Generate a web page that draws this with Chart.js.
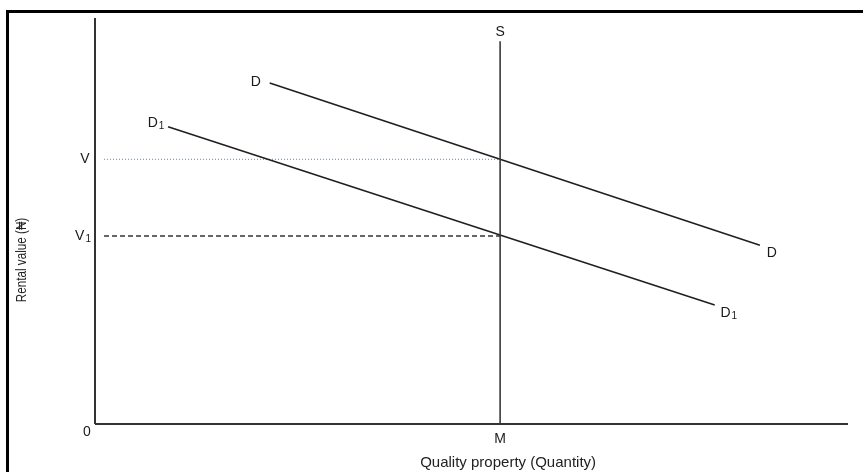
<!DOCTYPE html>
<html>
<head>
<meta charset="utf-8">
<script src="https://cdn.jsdelivr.net/npm/chart.js@4.4.0/dist/chart.umd.min.js"></script>
<style>
  body { margin: 0; background: #fff; }
  #wrap { width: 863px; height: 472px; position: relative; }
</style>
</head>
<body>
<div id="wrap"><canvas id="grafico"></canvas></div>
<script>
var demandaX = [23.2, 88.3];
var demandaY = [84.0, 44.0];
var demanda1X = [9.7, 82.3];
var demanda1Y = [73.2, 29.3];
var ofertaX = [53.8, 53.8];
var ofertaY = [0, 94.3];
var niveles = [65.2, 46.3]; // V, V1
var ejeMax = 100;

function puntos(xs, ys) {
    return xs.map((x, i) => ({ x: x, y: ys[i] }));
}

var oscuro = '#1f1f1f';

// textos: etiquetas de las curvas y de los ejes
var textosPlugin = {
    id: 'textos',
    beforeDraw: function (chart) {
        var c = chart.ctx;
        c.save();
        c.fillStyle = '#fff';
        c.fillRect(0, 0, chart.width, chart.height);
        // marco negro del escaneo
        c.strokeStyle = '#000';
        c.lineWidth = 3;
        c.beginPath();
        c.moveTo(7.5, chart.height);
        c.lineTo(7.5, 11.5);
        c.lineTo(chart.width, 11.5);
        c.stroke();
        c.restore();
    },
    afterDraw: function (chart) {
        var c = chart.ctx;
        var sx = chart.scales.x, sy = chart.scales.y;
        var px = (v) => sx.getPixelForValue(v);
        var py = (v) => sy.getPixelForValue(v);
        var fuente = '"Liberation Sans", Arial, sans-serif';

        function etiqueta(txt, sub, x, y) {
            c.textBaseline = 'middle';
            c.textAlign = 'left';
            c.font = '14px ' + fuente;
            var w = c.measureText(txt).width;
            var subW = 0;
            if (sub) {
                c.font = '10px ' + fuente;
                subW = c.measureText(sub).width + 1;
            }
            var x0 = x - (w + subW) / 2;
            c.font = '14px ' + fuente;
            c.fillText(txt, x0, y);
            if (sub) {
                c.font = '10px ' + fuente;
                c.fillText(sub, x0 + w + 1, y + 3);
            }
        }

        c.save();
        c.fillStyle = '#1a1a1a';
        etiqueta('S', '', px(ofertaX[1]), py(ofertaY[1]) - 9);
        etiqueta('M', '', px(ofertaX[0]), py(0) + 15);
        etiqueta('0', '', px(0) - 8, py(0) + 8);
        etiqueta('V', '', px(0) - 10, py(niveles[0]));
        etiqueta('V', '1', px(0) - 12, py(niveles[1]));
        etiqueta('D', '', px(demandaX[0]) - 14, py(demandaY[0]) - 1);
        etiqueta('D', '', px(demandaX[1]) + 12, py(demandaY[1]) + 8);
        etiqueta('D', '1', px(demanda1X[0]) - 12, py(demanda1Y[0]) - 4);
        etiqueta('D', '1', px(demanda1X[1]) + 14, py(demanda1Y[1]) + 8);

        // titulos de los ejes
        c.font = '15px ' + fuente;
        c.textAlign = 'center';
        c.textBaseline = 'middle';
        c.fillStyle = '#222';
        c.fillText('Quality property (Quantity)', px(ofertaX[0]) + 8, 463);

        // titulo vertical, letra estrecha
        c.translate(22, 260);
        c.rotate(-Math.PI / 2);
        c.scale(0.78, 1);
        c.font = '15px ' + fuente;
        c.fillText('Rental value (\u20A6)', 0, 0);
        c.restore();
    }
};

var ctx = document.getElementById('grafico').getContext('2d');
var chart = new Chart(ctx, {
    type: 'scatter',
    data: {
        datasets: [
            { // eje x
                data: puntos([0, ejeMax], [0, 0]),
                showLine: true, borderColor: '#333', borderWidth: 2, pointRadius: 0, clip: false
            },
            { // eje y
                data: puntos([0, 0], [0, ejeMax]),
                showLine: true, borderColor: '#333', borderWidth: 2, pointRadius: 0, clip: false
            },
            { // S
                data: puntos(ofertaX, ofertaY),
                showLine: true, borderColor: '#3a3a3a', borderWidth: 1.6, pointRadius: 0, clip: false
            },
            { // D
                data: puntos(demandaX, demandaY),
                showLine: true, borderColor: oscuro, borderWidth: 1.6, pointRadius: 0, clip: false
            },
            { // D1
                data: puntos(demanda1X, demanda1Y),
                showLine: true, borderColor: oscuro, borderWidth: 1.6, pointRadius: 0, clip: false
            },
            { // V punteada
                data: puntos([1.2, ofertaX[0]], [niveles[0], niveles[0]]),
                showLine: true, borderColor: '#6d7f99', borderWidth: 1, borderDash: [1, 2],
                pointRadius: 0, clip: false
            },
            { // V1 discontinua
                data: puntos([1.2, ofertaX[0]], [niveles[1], niveles[1]]),
                showLine: true, borderColor: '#333', borderWidth: 1.5, borderDash: [5, 3],
                pointRadius: 0, clip: false
            }
        ]
    },
    options: {
        responsive: true,
        maintainAspectRatio: false,
        animation: false,
        layout: {
            padding: { left: 95, right: 15, top: 18, bottom: 48 }
        },
        scales: {
            x: { type: 'linear', min: 0, max: ejeMax, display: false },
            y: { type: 'linear', min: 0, max: ejeMax, display: false }
        },
        plugins: {
            legend: { display: false },
            tooltip: { enabled: false }
        }
    },
    plugins: [textosPlugin]
});
</script>
</body>
</html>
